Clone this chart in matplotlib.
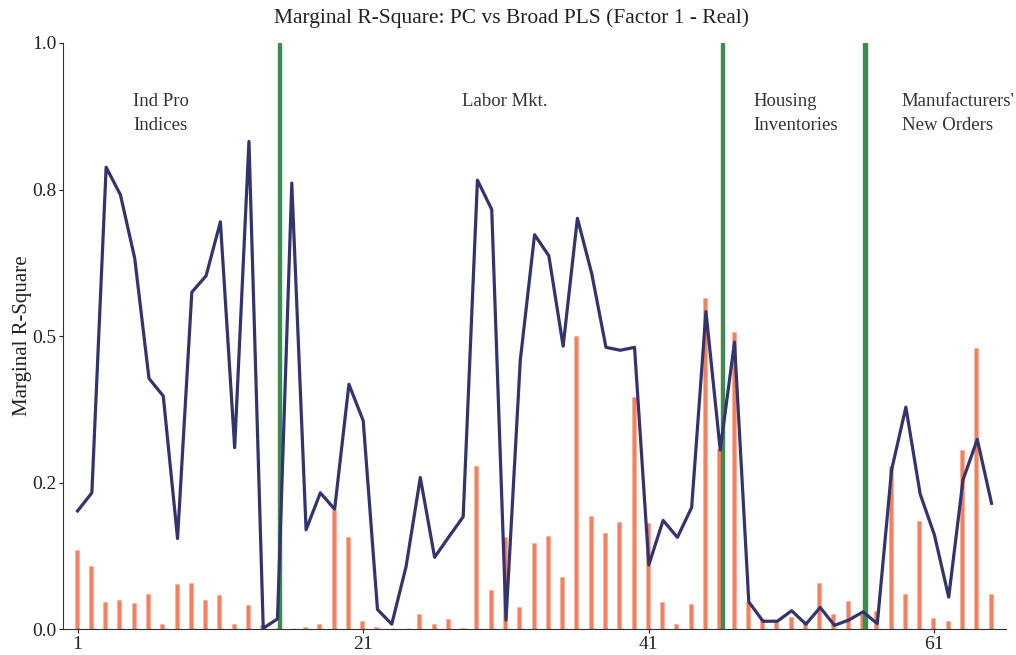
import numpy as np
import matplotlib
matplotlib.use("Agg")
import matplotlib.pyplot as plt

plt.rcParams['font.family'] = ['Liberation Serif', 'DejaVu Serif']

# marginal R-square, principal components (line)
pc = [0.202, 0.233, 0.788, 0.741, 0.633, 0.428, 0.398, 0.155, 0.575, 0.603,
      0.695, 0.310, 0.832, 0.002, 0.018, 0.761, 0.170, 0.233, 0.205, 0.418,
      0.356, 0.034, 0.009, 0.107, 0.259, 0.123, 0.158, 0.192, 0.766, 0.716,
      0.016, 0.459, 0.673, 0.637, 0.483, 0.701, 0.607, 0.481, 0.476, 0.481,
      0.110, 0.186, 0.157, 0.208, 0.542, 0.306, 0.490, 0.047, 0.014, 0.014,
      0.032, 0.009, 0.0375, 0.007, 0.016, 0.030, 0.010, 0.272, 0.379, 0.231,
      0.161, 0.055, 0.255, 0.324, 0.215]

# marginal R-square, broad PLS (bars)
pls = [0.136, 0.108, 0.047, 0.050, 0.045, 0.060, 0.0085, 0.078, 0.080, 0.050,
       0.058, 0.0085, 0.041, 0.007, 0.003, 0.001, 0.004, 0.010, 0.203, 0.157,
       0.014, 0.0045, 0.001, 0.001, 0.027, 0.010, 0.017, 0.002, 0.278, 0.068,
       0.158, 0.0375, 0.148, 0.159, 0.090, 0.501, 0.193, 0.164, 0.184, 0.396,
       0.181, 0.047, 0.009, 0.043, 0.565, 0.307, 0.507, 0.047, 0.017, 0.013,
       0.0215, 0.014, 0.080, 0.026, 0.049, 0.026, 0.032, 0.278, 0.060, 0.185,
       0.020, 0.014, 0.306, 0.480, 0.060]

# group separators
breaks = [15, 46, 56]

groups = ["Ind Pro\nIndices", "Labor Mkt.", "Housing\nInventories",
          "Manufacturers'\nNew Orders"]
group_x = [4.9, 27.9, 48.3, 58.7]
group_y = [0.915, 0.915, 0.915, 0.915]

x = np.arange(1, len(pc) + 1)
sep = np.array([1.0 if i in breaks else 0.0 for i in x])

fig = plt.figure(figsize=(10.16, 6.55), dpi=100)
ax = fig.add_axes([0.0623, 0.039, 0.9277, 0.8955])

ax.bar(x - 0.07, pls, width=0.28, color='#f4805f', edgecolor='#f9a88f', linewidth=0.4)
ax.bar(x + 0.15, sep, width=0.24, color='#3c8c50', edgecolor='#3c8c50', linewidth=1.0)
ax.plot(x, pc, color='#33346f', linewidth=2.3)

for txt, gx, gy in zip(groups, group_x, group_y):
    ax.text(gx, gy, txt, ha='left', va='top', fontsize=13.5, color='#333333',
            linespacing=1.55)

ax.set_xlim(0, 66)
ax.set_ylim(0, 1.0)
ax.set_xticks([1, 21, 41, 61])
ax.set_yticks([0, 0.25, 0.5, 0.75, 1.0])
ax.set_yticklabels(['0.0', '0.2', '0.5', '0.8', '1.0'])
ax.tick_params(labelsize=14, length=3, width=0.8, colors='#222222', pad=2)
for s in ['top', 'right']:
    ax.spines[s].set_visible(False)
for s in ['left', 'bottom']:
    ax.spines[s].set_color('#333333')

ax.set_ylabel('Marginal R-Square', fontsize=15, color='#222222', labelpad=0)
fig.text(0.503, 0.972, 'Marginal R-Square: PC vs Broad PLS (Factor 1 - Real)',
         fontsize=15.5, color='#222222', ha='center', va='center')

fig.savefig('out.png', dpi=100)
